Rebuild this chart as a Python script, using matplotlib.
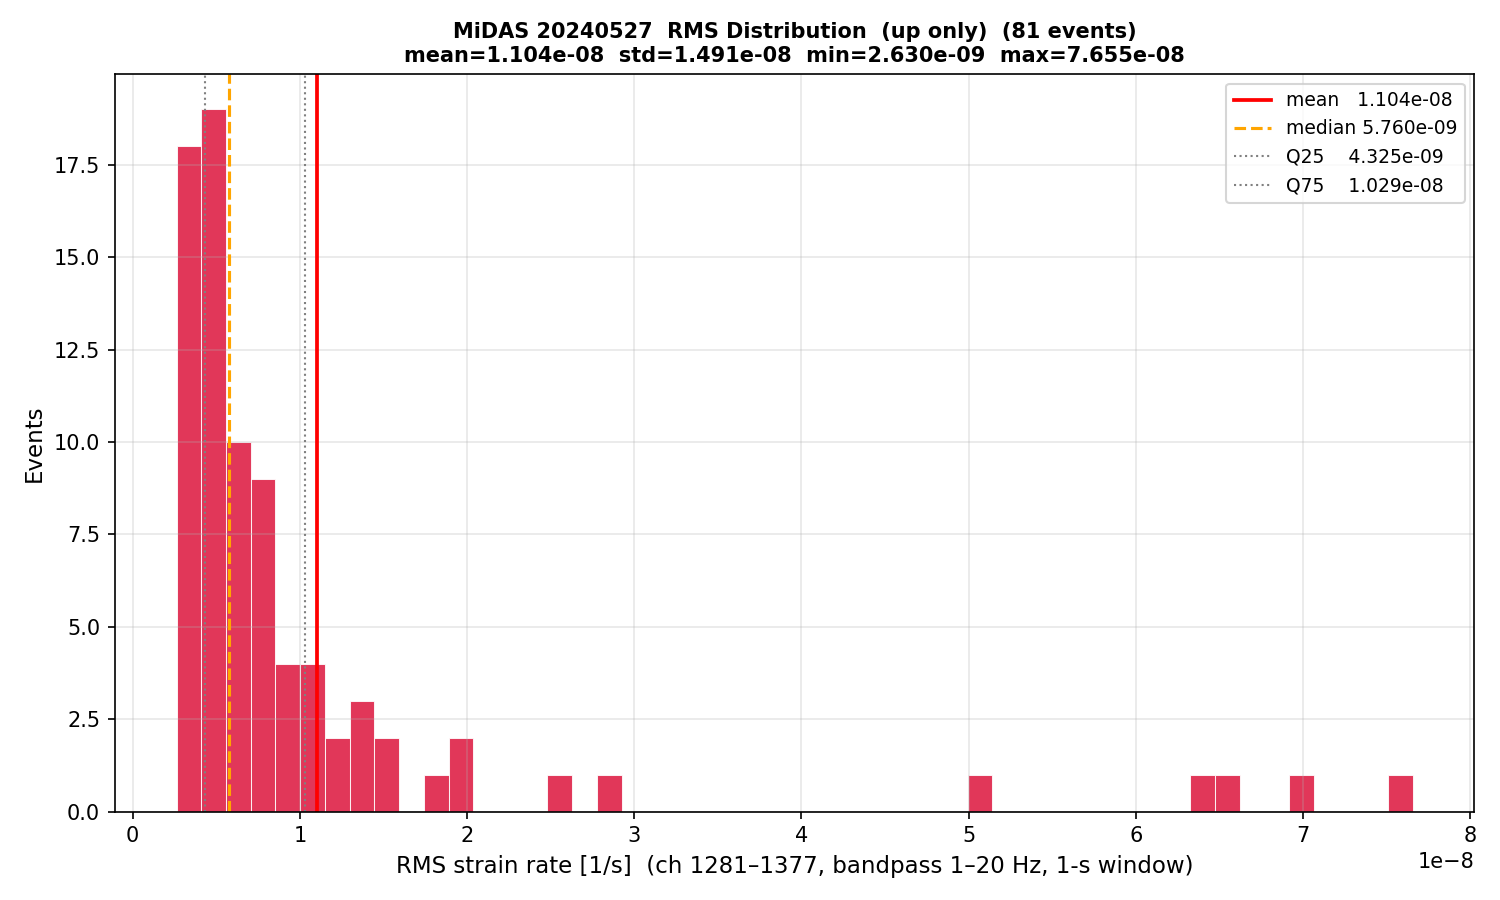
import numpy as np
import matplotlib
matplotlib.use('Agg')
import matplotlib.pyplot as plt

# histogram: 50 bins between min and max
rms_min = 2.630e-09
rms_max = 7.655e-08
n_bins = 50
counts = [18, 19, 10, 9, 4, 4, 2, 3, 2, 0,
          1, 2, 0, 0, 0, 1, 0, 1, 0, 0,
          0, 0, 0, 0, 0, 0, 0, 0, 0, 0,
          0, 0, 1, 0, 0, 0, 0, 0, 0, 0,
          0, 1, 1, 0, 0, 1, 0, 0, 0, 1]

mean_v = 1.104e-08
median_v = 5.760e-09
q25_v = 4.325e-09
q75_v = 1.029e-08
std_v = 1.491e-08
n_events = 81

edges = np.linspace(rms_min, rms_max, n_bins + 1)
centers = 0.5 * (edges[:-1] + edges[1:])

fig, ax = plt.subplots(figsize=(10, 6), dpi=150)
ax.hist(centers, bins=edges, weights=counts, color='crimson', alpha=0.85,
        edgecolor='white', linewidth=0.5)
ax.axvline(mean_v, color='red', lw=1.8, label='mean   {:.3e}'.format(mean_v))
ax.axvline(median_v, color='orange', lw=1.5, ls='--',
           label='median {:.3e}'.format(median_v))
ax.axvline(q25_v, color='gray', lw=1, ls=':', label='Q25    {:.3e}'.format(q25_v))
ax.axvline(q75_v, color='gray', lw=1, ls=':', label='Q75    {:.3e}'.format(q75_v))

ax.set_xlabel('RMS strain rate [1/s]  (ch 1281\u20131377, bandpass 1\u201320 Hz, 1-s window)',
              fontsize=11)
ax.set_ylabel('Events', fontsize=11)
ax.set_title('MiDAS 20240527  RMS Distribution  (up only)  ({} events)\n'
             'mean={:.3e}  std={:.3e}  min={:.3e}  max={:.3e}'.format(
                 n_events, mean_v, std_v, rms_min, rms_max),
             fontsize=10, fontweight='bold')
ax.legend(fontsize=9)
ax.grid(alpha=0.3)
fig.tight_layout()
fig.savefig('out.png')
